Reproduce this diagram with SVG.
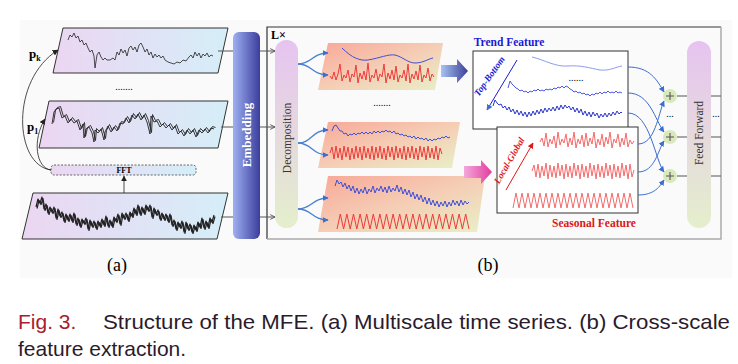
<svg xmlns="http://www.w3.org/2000/svg" width="738" height="364" viewBox="0 0 738 364">
<defs>
<style>
.par{fill:url(#gPar);stroke:#333;stroke-width:1}
.dpar{fill:url(#gDec)}
.ln{stroke:#555;stroke-width:1;fill:none}
.sig{fill:none;stroke-linejoin:round}
.blk{stroke:#222}
.red{stroke:#ee3a3a;stroke-width:1}
.lred{stroke:#f56a6a;stroke-width:1}
.blu{stroke:#3f4fd8;stroke-width:1}
.con{fill:none;stroke:#3a6fd0;stroke-width:1}
.fan{fill:none;stroke:#4a80d0;stroke-width:1.3}
.serif{font-family:"Liberation Serif","DejaVu Serif",serif}
.sans{font-family:"Liberation Sans",Arial,sans-serif}
.plus{fill:#d9e8bd}
.pl{stroke:#555;stroke-width:1.1}
</style>
<linearGradient id="gPar" x1="0" y1="0" x2="1" y2="0"><stop offset="0" stop-color="#ecd6f2"/><stop offset="1" stop-color="#d5eef8"/></linearGradient>
<linearGradient id="gDec" x1="0" y1="0" x2="1" y2="1"><stop offset="0" stop-color="#f8a898"/><stop offset="0.5" stop-color="#f5cdb5"/><stop offset="1" stop-color="#e8f0c8"/></linearGradient>
<linearGradient id="gEmb" x1="0" y1="0" x2="1" y2="0"><stop offset="0" stop-color="#9fb0f2"/><stop offset="1" stop-color="#3b3d9c"/></linearGradient>
<linearGradient id="gPill" x1="0" y1="0" x2="0" y2="1"><stop offset="0" stop-color="#e6c3f0"/><stop offset="1" stop-color="#e4efcc"/></linearGradient>
<linearGradient id="gBA" x1="0" y1="0" x2="1" y2="0"><stop offset="0" stop-color="#a9c3f2"/><stop offset="1" stop-color="#3a3e98"/></linearGradient>
<linearGradient id="gPA" x1="0" y1="0" x2="1" y2="0"><stop offset="0" stop-color="#f3a8dc"/><stop offset="1" stop-color="#e23d9e"/></linearGradient>
<marker id="mk" viewBox="0 0 10 10" refX="9" refY="5" markerWidth="6" markerHeight="6" orient="auto" markerUnits="userSpaceOnUse"><path d="M0,0 L10,5 L0,10 z" fill="#222"/></marker>
<marker id="mg" viewBox="0 0 10 10" refX="9" refY="5" markerWidth="6" markerHeight="6" orient="auto" markerUnits="userSpaceOnUse"><path d="M1,1 L9,5 L1,9" fill="none" stroke="#555" stroke-width="1.5"/></marker>
<marker id="mb" viewBox="0 0 10 10" refX="9" refY="5" markerWidth="6" markerHeight="6" orient="auto" markerUnits="userSpaceOnUse"><path d="M0,0 L10,5 L0,10 z" fill="#3a6fd0"/></marker>
<marker id="mr" viewBox="0 0 10 10" refX="9" refY="5" markerWidth="6" markerHeight="6" orient="auto" markerUnits="userSpaceOnUse"><path d="M0,0 L10,5 L0,10 z" fill="#e01818"/></marker>
</defs>
<rect width="738" height="364" fill="#fff"/>
<rect x="20" y="20" width="712" height="258" fill="#fafafa"/>

<!-- (a) multiscale series -->
<g id="series-pk">
<polygon class="par" points="63,28 228,28 218,73 53,73"/>
<polyline class="sig blk" stroke-width="0.8" points="68,40 70,35 72,37 74,33 76,38 78,36 80,42 82,40 84,45 86,43 88,48 90,52 92,50 94,56 95,68 97,55 99,52 101,57 103,60 105,58 107,60 110,60 113,58 115,60 117,52 119,55 121,49 123,53 125,50 127,56 129,48 131,46 133,50 135,47 137,52 139,45 141,43 143,47 145,52 147,49 149,55 151,52 153,58 155,54 157,57 159,55 161,58 163,56 165,60 168,62 171,63 174,64 177,62 180,63 183,60 186,61 189,57 191,55 193,58 195,52 197,56 199,53 201,58 203,54 205,56 207,53 209,57 211,55 213,56"/>
<text class="serif" x="29" y="58" font-size="13" font-weight="bold">p<tspan font-size="8" dy="3">k</tspan></text>
</g>
<text class="serif" x="124" y="90" font-size="10" text-anchor="middle">.......</text>
<g id="series-p1">
<polygon class="par" points="49,101 228,101 218,148 39,148"/>
<polyline id="s2" class="sig blk" stroke-width="0.9" points="52,124 54,112 56,109 59,108 62,118 65,116 68,123 71,119 74,123 77,121 80,130 83,124 84,138 86,129 89,127 92,133 94,142 95,130 98,133 101,129 104,140 105,132 108,126 111,132 114,127 117,131 120,123 123,124 126,118 129,123 132,115 135,119 138,114 141,120 144,115 147,122 150,134 151,116 154,122 157,121 160,127 163,124 166,128 169,125 172,130 175,126 178,134 181,131 184,136 187,130 190,134 193,130 196,137 199,130 202,133 205,129 208,133 211,128 214,129"/>
<use href="#s2" transform="translate(1.5,-1.5)" stroke-width="0.6"/>
<text class="serif" x="27" y="131" font-size="13" font-weight="bold">p<tspan font-size="8" dy="3">1</tspan></text>
</g>
<g id="fft">
<rect x="51" y="165" width="145" height="10" rx="3" fill="url(#gPar)" stroke="#444" stroke-width="0.8" stroke-dasharray="2,1.5"/>
<text class="serif" x="124" y="173" font-size="8" font-weight="bold" text-anchor="middle">FFT</text>
</g>
<g id="series-raw">
<polygon class="par" points="33,193 228,193 217,239 22,239"/>
<polyline id="s3" class="sig blk" stroke-width="1.2" points="36,207 38,199 40,203 42,197 44,209 46,204 48,213 50,207 52,212 54,207 56,218 58,209 60,216 62,212 64,221 66,214 68,220 70,214 72,221 74,213 76,224 78,218 80,226 82,219 84,223 86,218 88,229 90,220 92,226 94,221 96,228 98,221 100,226 102,219 104,225 106,216 108,226 110,220 112,226 114,217 116,221 118,214 120,224 122,213 124,218 126,213 128,220 130,212 132,216 134,208 136,214 138,205 140,214 142,207 144,213 146,205 148,210 150,205 152,217 154,208 156,214 158,210 160,219 162,213 164,219 166,214 168,221 170,214 172,225 174,220 176,229 178,222 180,227 182,221 184,232 186,222 188,229 190,224 192,232 194,225 196,230 198,222 200,227 202,218 204,228 206,221 208,227 210,218 212,222 214,215"/>
<use href="#s3" transform="translate(1,1.5)"/>
</g>
<g id="embedding">
<rect x="233" y="32" width="27" height="207" rx="6" fill="url(#gEmb)"/>
<text class="serif" transform="translate(251,135) rotate(-90)" font-size="13" font-weight="bold" fill="#fff" text-anchor="middle">Embedding</text>
</g>

<!-- (b) panel -->
<path d="M267,239 V27 H721" fill="none" stroke="#333" stroke-width="1.2"/>
<path d="M721,27 V239 H267" fill="none" stroke="#aaa" stroke-width="1.5"/>
<text class="serif" x="271" y="39" font-size="12" font-weight="bold">L×</text>

<g id="decomposition">
<rect x="275" y="40" width="23" height="188" rx="11.5" fill="url(#gPill)"/>
<text class="serif" transform="translate(291,138) rotate(-90)" font-size="11.5" fill="#333" text-anchor="middle">Decomposition</text>
</g>

<g id="decomp-1">
<polygon class="dpar" points="328,43 443,43 435,90 318,90"/>
<path class="sig blu" d="M342,48 C352,58 360,61 368,60 C380,58 388,54 395,55 C403,57 408,63 415,63 C423,63 428,59 433,58"/>
<polyline class="sig red" points="330,76 332,79 334,72 336,80 338,74 340,64 342,81 344,75 346,78 348,70 350,82 352,74 354,77 356,65 358,83 360,73 362,79 364,71 366,80 368,63 370,82 372,75 374,78 376,69 378,81 380,74 382,77 384,64 386,83 388,73 390,79 392,70 394,80 396,66 398,82 400,75 402,78 404,70 406,81 408,64 410,83 412,74 414,79 416,71 418,80 420,65 422,82 424,75 426,78 428,68 430,81 432,74 434,77"/>
</g>
<text class="serif" x="382" y="106" font-size="10" text-anchor="middle">.......</text>
<g id="decomp-2">
<polygon class="dpar" points="328,122 460,122 452,168 318,168"/>
<polyline class="sig blu" points="332,131 334,126 336,125 338,128 340,131 342,131 344,134 346,133 348,136 350,134 352,135 354,133 356,135 358,133 360,134 362,132 364,134 366,132 368,134 370,132 372,134 374,131 376,133 378,131 380,133 382,131 384,132 386,130 388,132 390,131 392,133 394,131 396,134 398,133 400,135 402,134 404,136 406,135 408,137 410,136 412,138 414,136 416,139 418,137 420,139 422,138 424,140 426,138 428,141 430,139 432,141 434,139 436,140 438,138 440,139 442,137 444,138 446,136 448,138 450,137"/>
<polyline class="sig red" points="330,153 332,147 334,159 336,146 338,158 340,148 342,160 344,146 346,157 348,147 350,160 352,148 354,159 356,146 358,158 360,147 362,160 364,146 366,158 368,148 370,159 372,146 374,160 376,147 378,158 380,146 382,159 384,148 386,160 388,146 390,157 392,147 394,160 396,146 398,158 400,148 402,159 404,146 406,160 408,147 410,158 412,146 414,159 416,148 418,160 420,146 422,157 424,147 426,160 428,146 430,158 432,148 434,159 436,146 438,160 440,148 442,154"/>
</g>
<g id="decomp-3">
<polygon class="dpar" points="328,176 485,176 477,232 318,232"/>
<polyline class="sig blu" points="335,186 337,180 339,184 341,182 343,187 345,183 347,189 349,185 351,191 353,186 355,193 357,188 359,194 361,189 363,193 365,187 367,194 369,189 371,192 373,186 375,193 377,188 379,191 381,186 383,192 385,187 387,193 389,186 391,192 393,188 395,191 397,185 399,192 401,187 403,194 405,189 407,195 409,190 411,197 413,192 415,199 417,194 419,200 421,195 423,202 425,197 427,204 429,198 431,205 433,200 435,206 437,201 439,207 441,202 443,206 445,201 447,207 449,202 451,206 453,200 455,205 457,201 459,206 461,200 463,205 465,201 467,204 469,202"/>
<path class="sig red" d="M337,229 l3.3,-15 3.3,15 3.3,-15 3.3,15 3.3,-15 3.3,15 3.3,-15 3.3,15 3.3,-15 3.3,15 3.3,-15 3.3,15 3.3,-15 3.3,15 3.3,-15 3.3,15 3.3,-15 3.3,15 3.3,-15 3.3,15 3.3,-15 3.3,15 3.3,-15 3.3,15 3.3,-15 3.3,15 3.3,-15 3.3,15 3.3,-15 3.3,15 3.3,-15 3.3,15 3.3,-15 3.3,15 3.3,-15 3.3,15 3.3,-15 3.3,15 3.3,-15 3.3,15"/>
</g>

<polygon id="arrow-trend" points="441,65 457,65 457,59 468,71 457,83 457,77 441,77" fill="url(#gBA)"/>
<polygon id="arrow-seasonal" points="464,166 481,166 481,160 492,172 481,184 481,178 464,178" fill="url(#gPA)"/>

<g id="trend-feature">
<text class="serif" x="509" y="46" font-size="11.5" font-weight="bold" fill="#1a1ad8" text-anchor="middle">Trend Feature</text>
<rect x="473" y="51" width="155" height="78" fill="#fff" stroke="#333" stroke-width="1"/>
<text class="serif" transform="translate(492,78) rotate(-55)" font-size="9.5" font-weight="bold" font-style="italic" fill="#1a1ad8" text-anchor="middle">Top-Bottom</text>
<line x1="517" y1="60" x2="487" y2="110" stroke="#1a1ad8" stroke-width="1" marker-end="url(#mb)"/>
<path class="sig" stroke="#8c9cf0" stroke-width="1" d="M532,57 C545,60 555,67 568,66 C580,65 590,68 600,70 C610,71 615,67 622,66"/>
<text class="serif" x="576" y="81" font-size="10" text-anchor="middle">......</text>
<polyline class="sig" stroke="#4a58e6" stroke-width="1" points="508,88 510,81 512,84 514,86 516,88 518,89 520,91 522,90 524,92 526,91 528,93 530,91 532,92 534,90 536,91 538,89 540,91 542,90 544,91 546,89 548,90 550,89 552,90 554,88 556,89 558,87 560,88 562,86 564,88 566,86 568,87 570,89 572,90 574,92 576,91 578,93 580,92 582,94 584,93 586,95 588,94 590,96 592,94 594,95 596,93 598,94 600,92 602,94 604,92 606,93 608,91 610,93 612,92 614,93 616,91 618,93 620,92 622,93"/>
<polyline class="sig" stroke="#2a36cc" stroke-width="1" points="493,106 495,100 497,103 499,105 501,104 503,108 505,106 507,110 509,107 511,112 513,109 515,114 517,110 519,115 521,111 523,116 525,112 527,117 529,112 531,116 533,111 535,115 537,110 539,114 541,109 543,113 545,108 547,112 549,108 551,111 553,107 555,111 557,106 559,110 561,105 563,109 565,105 567,108 569,106 571,110 573,107 575,112 577,108 579,113 581,109 583,115 585,111 587,116 589,112 591,117 593,112 595,116 597,113 599,118 601,114 603,117 605,113 607,117 609,113 611,116 613,112 615,115 617,111 619,114 621,112 622,113"/>
</g>

<g id="seasonal-feature">
<rect x="497" y="127" width="141" height="86" fill="#fff" stroke="#333" stroke-width="1"/>
<text class="serif" transform="translate(512,162) rotate(-60)" font-size="9.5" font-weight="bold" font-style="italic" fill="#e01818" text-anchor="middle">Local-Global</text>
<line x1="506" y1="190" x2="533" y2="143" stroke="#e01818" stroke-width="1" marker-end="url(#mr)"/>
<polyline class="sig lred" points="540,142 542,138 544,146 546,133 548,147 550,139 552,144 554,136 556,148 558,132 560,145 562,139 564,143 566,134 568,147 570,138 572,145 574,132 576,148 578,139 580,144 582,135 584,147 586,133 588,146 590,138 592,144 594,132 596,148 598,139 600,145 602,134 604,147 606,137 608,144 610,132 612,148 614,139 616,143 618,134 620,147 622,138 624,145 626,133 628,147 630,140 632,144 634,141"/>
<polyline class="sig lred" points="532,171 534,165 536,177 538,164 540,178 542,166 544,176 546,163 548,179 550,165 552,177 554,166 556,178 558,163 560,176 562,165 564,179 566,164 568,177 570,166 572,178 574,163 576,176 578,165 580,179 582,164 584,177 586,166 588,178 590,163 592,176 594,165 596,179 598,164 600,177 602,166 604,178 606,163 608,176 610,165 612,179 614,164 616,177 618,166 620,178 622,163 624,176 626,165 628,179 630,164 632,177 634,170"/>
<path class="sig lred" d="M513,208 l3,-15 3,15 3,-15 3,15 3,-15 3,15 3,-15 3,15 3,-15 3,15 3,-15 3,15 3,-15 3,15 3,-15 3,15 3,-15 3,15 3,-15 3,15 3,-15 3,15 3,-15 3,15 3,-15 3,15 3,-15 3,15 3,-15 3,15 3,-15 3,15 3,-15 3,15 3,-15 3,15 3,-15 3,15 3,-15 3,15"/>
<text class="serif" x="594" y="227" font-size="11.5" font-weight="bold" fill="#d81818" text-anchor="middle">Seasonal Feature</text>
</g>

<g id="add-1"><circle class="plus" cx="670" cy="96" r="7"/><path class="pl" d="M666,96 H674 M670,92 V100"/></g>
<g id="add-2"><circle class="plus" cx="670" cy="137" r="7"/><path class="pl" d="M666,137 H674 M670,133 V141"/></g>
<g id="add-3"><circle class="plus" cx="670" cy="176" r="7"/><path class="pl" d="M666,176 H674 M670,172 V180"/></g>
<text class="serif" x="670" y="117" font-size="10" text-anchor="middle">...</text>

<g id="feed-forward">
<rect x="687" y="41" width="24" height="187" rx="12" fill="url(#gPill)"/>
<text class="serif" transform="translate(703,133) rotate(-90)" font-size="11.5" fill="#333" text-anchor="middle">Feed Forward</text>
</g>
<text class="serif" x="716" y="117" font-size="10" text-anchor="middle">...</text>

<g id="connectors">
<line class="ln" x1="218" y1="51" x2="233" y2="51"/>
<line class="ln" x1="221" y1="127" x2="233" y2="127"/>
<line class="ln" x1="221" y1="217" x2="233" y2="217"/>
<line x1="124" y1="193" x2="124" y2="176" stroke="#222" stroke-width="0.8" marker-end="url(#mk)"/>
<path d="M51,170 C14,165 10,80 58,50" fill="none" stroke="#222" stroke-width="0.8" marker-end="url(#mk)"/>
<path d="M51,170 C36,168 32,140 45,119" fill="none" stroke="#222" stroke-width="0.8" marker-end="url(#mk)"/>
<line class="ln" x1="260" y1="51" x2="275" y2="51" marker-end="url(#mg)"/>
<line class="ln" x1="260" y1="127" x2="275" y2="127" marker-end="url(#mg)"/>
<line class="ln" x1="260" y1="217" x2="275" y2="217" marker-end="url(#mg)"/>
<path class="fan" d="M298,64 C312,64 312,53 328,53" marker-end="url(#mb)"/>
<path class="fan" d="M298,64 C312,64 312,75 328,75" marker-end="url(#mb)"/>
<path class="fan" d="M298,143 C312,143 312,130 328,130" marker-end="url(#mb)"/>
<path class="fan" d="M298,143 C312,143 312,155 328,155" marker-end="url(#mb)"/>
<path class="fan" d="M298,209 C312,209 312,198 328,198" marker-end="url(#mb)"/>
<path class="fan" d="M298,209 C312,209 312,220 328,220" marker-end="url(#mb)"/>
<path class="con" d="M628,67 C650,67 657,80 664,92" marker-end="url(#mb)"/>
<path class="con" d="M628,93 C650,93 655,120 664,132" marker-end="url(#mb)"/>
<path class="con" d="M628,113 C650,113 655,160 664,172" marker-end="url(#mb)"/>
<path class="con" d="M638,144 C655,144 658,115 664,101" marker-end="url(#mb)"/>
<path class="con" d="M638,172 C655,172 658,150 664,141" marker-end="url(#mb)"/>
<path class="con" d="M638,195 C655,195 660,186 664,180" marker-end="url(#mb)"/>
<line class="ln" x1="677" y1="96" x2="687" y2="96"/>
<line class="ln" x1="677" y1="137" x2="687" y2="137"/>
<line class="ln" x1="677" y1="176" x2="687" y2="176"/>
<line class="ln" x1="711" y1="96" x2="721" y2="96"/>
<line class="ln" x1="711" y1="137" x2="721" y2="137"/>
<line class="ln" x1="711" y1="176" x2="721" y2="176"/>
</g>

<text class="serif" x="117" y="271" font-size="18" text-anchor="middle">(a)</text>
<text class="serif" x="488" y="271" font-size="18" text-anchor="middle">(b)</text>
<text class="sans" x="18" y="329" font-size="21" fill="#2b1b2b"><tspan fill="#a8202e">Fig. 3.</tspan><tspan x="103" textLength="627" lengthAdjust="spacingAndGlyphs">Structure of the MFE. (a) Multiscale time series. (b) Cross-scale</tspan></text>
<text class="sans" x="18" y="356" font-size="21" fill="#2b1b2b">feature extraction.</text>
</svg>
